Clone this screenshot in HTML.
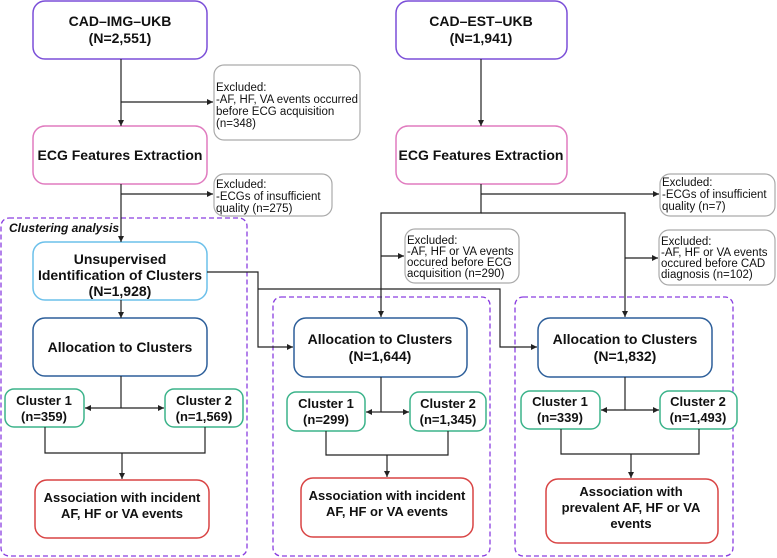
<!DOCTYPE html>
<html><head><meta charset="utf-8"><style>
body{margin:0;background:#fff}
svg{display:block}
text{font-family:"Liberation Sans",sans-serif;fill:#111}
.b{font-weight:bold;font-size:14px}
.s{font-size:11.5px}
</style></head><body>
<svg width="777" height="558" viewBox="0 0 777 558" xmlns="http://www.w3.org/2000/svg">
<defs><marker id="a" markerWidth="6" markerHeight="6" refX="5" refY="3" orient="auto"><path d="M0,0.5 L5,3 L0,5.5z" fill="#222"/></marker></defs>
<g fill="none" stroke="#8a3ee0" stroke-width="1.3" stroke-dasharray="5,3">
<rect x="1" y="218" width="246" height="338" rx="8"/>
<rect x="273" y="297" width="217" height="259" rx="8"/>
<rect x="515" y="297" width="218" height="259" rx="8"/>
</g>
<text x="9" y="232" font-size="12" font-style="italic" font-weight="bold">Clustering analysis</text>
<g fill="#fff" stroke-width="1.5">
<rect x="33" y="1" width="174" height="58" rx="12" stroke="#7b4fd8"/>
<rect x="396" y="1" width="171" height="58" rx="12" stroke="#7b4fd8"/>
<rect x="33" y="126" width="174" height="58" rx="12" stroke="#e07bbf"/>
<rect x="396" y="126" width="171" height="58" rx="12" stroke="#e07bbf"/>
<rect x="33" y="242" width="174" height="58" rx="12" stroke="#6cc0ea"/>
<rect x="33" y="318" width="174" height="58" rx="12" stroke="#2d5f9a"/>
<rect x="294" y="318" width="173" height="59" rx="12" stroke="#2d5f9a"/>
<rect x="538" y="318" width="174" height="59" rx="12" stroke="#2d5f9a"/>
<rect x="5" y="389" width="79" height="38" rx="9" stroke="#3bb38a"/>
<rect x="165" y="389" width="78" height="38" rx="9" stroke="#3bb38a"/>
<rect x="287" y="392" width="78" height="39" rx="9" stroke="#3bb38a"/>
<rect x="410" y="392" width="76" height="39" rx="9" stroke="#3bb38a"/>
<rect x="521" y="391" width="79" height="38" rx="9" stroke="#3bb38a"/>
<rect x="660" y="391" width="77" height="38" rx="9" stroke="#3bb38a"/>
<rect x="35" y="480" width="174" height="58" rx="12" stroke="#d94444"/>
<rect x="301" y="478" width="172" height="59" rx="12" stroke="#d94444"/>
<rect x="546" y="479" width="172" height="64" rx="12" stroke="#d94444"/>
</g>
<g fill="#fff" stroke="#aaa" stroke-width="1.2">
<rect x="214" y="65" width="146" height="75" rx="10"/>
<rect x="214" y="174" width="118" height="42" rx="10"/>
<rect x="405" y="229" width="114" height="54" rx="10"/>
<rect x="659" y="230" width="116" height="55" rx="10"/>
<rect x="660" y="174" width="115" height="42" rx="10"/>
</g>
<g fill="none" stroke="#222" stroke-width="1.2">
<path d="M45 427V453H205V427"/>
<path d="M326 431V455H448V431"/>
<path d="M561 429V454H699V429"/>
<path d="M121 376V408"/>
<path d="M381 377V412"/>
<path d="M625 377V410"/>
</g>
<g fill="none" stroke="#222" stroke-width="1.2" marker-end="url(#a)">
<path d="M121 59V126"/>
<path d="M121 102H213"/>
<path d="M121 184V242"/>
<path d="M121 194H213"/>
<path d="M121 300V318"/>
<path d="M121 408H85"/>
<path d="M121 408H164"/>
<path d="M481 59V126"/>
<path d="M481 184V213H381V317"/>
<path d="M481 194H659"/>
<path d="M481 213H625V317"/>
<path d="M381 256H404"/>
<path d="M625 258H658"/>
<path d="M207 272H258V347H293"/>
<path d="M258 289H500V347H537"/>
<path d="M381 412H366"/>
<path d="M381 412H409"/>
<path d="M625 410H601"/>
<path d="M625 410H659"/>
<path d="M122 453V479"/>
<path d="M387 455V477"/>
<path d="M631 454V478"/>
</g>
<g class="b" text-anchor="middle">
<text x="120" y="26">CAD–IMG–UKB</text><text x="120" y="43">(N=2,551)</text>
<text x="481" y="26">CAD–EST–UKB</text><text x="481" y="43">(N=1,941)</text>
<text x="120" y="160">ECG Features Extraction</text>
<text x="481" y="160">ECG Features Extraction</text>
<text x="120" y="264">Unsupervised</text><text x="120" y="280">Identification of Clusters</text><text x="120" y="296">(N=1,928)</text>
<text x="120" y="352">Allocation to Clusters</text>
<text x="380" y="344">Allocation to Clusters</text><text x="380" y="361">(N=1,644)</text>
<text x="625" y="344">Allocation to Clusters</text><text x="625" y="361">(N=1,832)</text>
<text x="44" y="405" font-size="13">Cluster 1</text><text x="44" y="421" font-size="13">(n=359)</text>
<text x="204" y="405" font-size="13">Cluster 2</text><text x="204" y="421" font-size="13">(n=1,569)</text>
<text x="326" y="408" font-size="13">Cluster 1</text><text x="326" y="424" font-size="13">(n=299)</text>
<text x="448" y="408" font-size="13">Cluster 2</text><text x="448" y="424" font-size="13">(n=1,345)</text>
<text x="560" y="406" font-size="13">Cluster 1</text><text x="560" y="422" font-size="13">(n=339)</text>
<text x="698" y="406" font-size="13">Cluster 2</text><text x="698" y="422" font-size="13">(n=1,493)</text>
<text x="122" y="502" font-size="13">Association with incident</text><text x="122" y="518" font-size="13">AF, HF or VA events</text>
<text x="387" y="500" font-size="13">Association with incident</text><text x="387" y="516" font-size="13">AF, HF or VA events</text>
<text x="631" y="496" font-size="13">Association with</text><text x="631" y="512" font-size="13">prevalent AF, HF or VA</text><text x="631" y="528" font-size="13">events</text>
</g>
<g class="s">
<text x="216" y="91">Excluded:</text><text x="216" y="103" textLength="142" lengthAdjust="spacingAndGlyphs">-AF, HF, VA events occurred</text><text x="216" y="115">before ECG acquisition</text><text x="216" y="127">(n=348)</text>
<text x="216" y="188">Excluded:</text><text x="216" y="200">-ECGs of insufficient</text><text x="216" y="212">quality (n=275)</text>
<text x="407" y="244">Excluded:</text><text x="407" y="255">-AF, HF or VA events</text><text x="407" y="266">occured before ECG</text><text x="407" y="277">acquisition (n=290)</text>
<text x="661" y="245">Excluded:</text><text x="661" y="256">-AF, HF or VA events</text><text x="661" y="267">occured before CAD</text><text x="661" y="278">diagnosis (n=102)</text>
<text x="662" y="186">Excluded:</text><text x="662" y="198">-ECGs of insufficient</text><text x="662" y="210">quality (n=7)</text>
</g>
</svg>
</body></html>
